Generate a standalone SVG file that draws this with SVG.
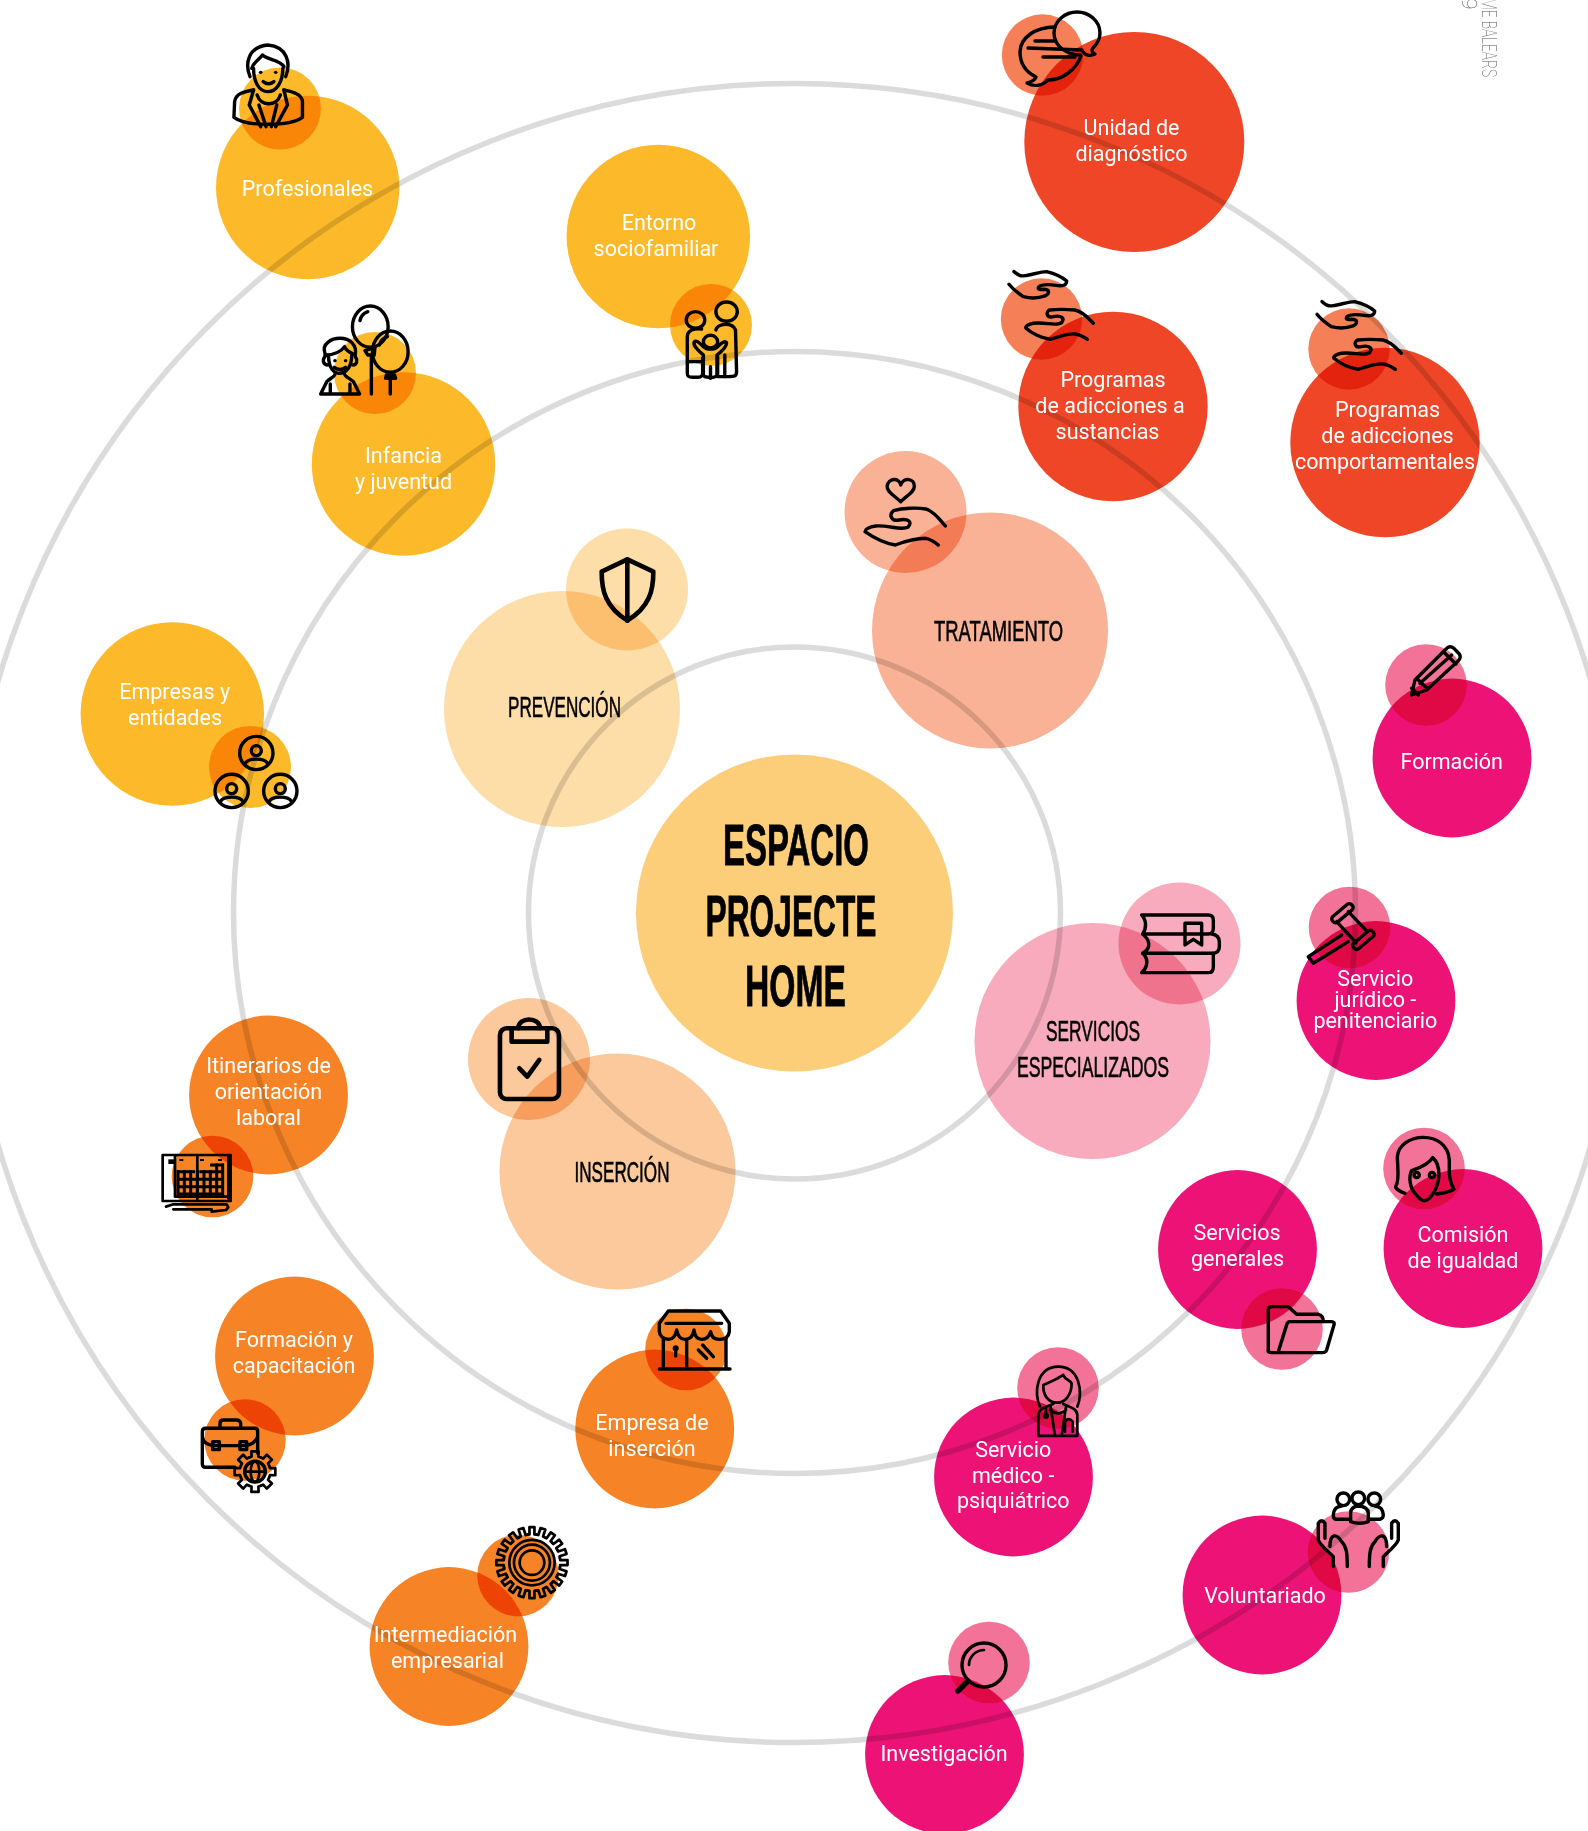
<svg xmlns="http://www.w3.org/2000/svg" xmlns:xlink="http://www.w3.org/1999/xlink" width="1588" height="1831" viewBox="0 0 1588 1831">
<style>
circle.c{mix-blend-mode:multiply}
.y{fill:#FCB92A}.r{fill:#EE4626}.rs{fill:#F58058}.p{fill:#EC1276}.ps{fill:#F27397}.o{fill:#F68325}
.core{fill:#FCCE79}.sp{fill:#FDDDA8}.st{fill:#F9B295}.se{fill:#F7ABBD}.si{fill:#FBC99B}
.ring{fill:none;stroke:#DBDBDB;stroke-width:5.5}
.l{font-family:Roboto,"Liberation Sans",sans-serif;font-size:21.5px;fill:#fff;text-anchor:middle}
.h{font-family:"Liberation Sans",Arial,sans-serif;font-size:29.5px;fill:#000;stroke:#000;stroke-width:.6}
.hb{font-family:"Liberation Sans",Arial,sans-serif;font-size:58px;font-weight:700;fill:#000;stroke:#000;stroke-width:.8}
.ed{font-family:Roboto,"Liberation Sans",sans-serif;font-weight:100;font-size:21px;fill:#555}
.i *{fill:none;stroke:#000;stroke-width:3.4;stroke-linecap:round;stroke-linejoin:round;vector-effect:non-scaling-stroke}
.i .t{stroke-width:2.7}
.i .f{fill:#000;stroke:none}
</style>
<defs>
<g id="hands" class="i">
<path d="M42 815C55 825 60 830 75 827C95 825 120 815 140 815C160 820 185 830 200 843C200 855 190 858 175 857C160 855 135 850 120 858C110 865 115 870 130 868C150 868 150 880 135 888C115 895 90 895 70 890C55 880 40 870 27 853"/>
<path d="M280 970C265 955 250 935 225 930C200 928 170 928 150 930C135 935 140 955 160 950C185 945 195 955 185 968C170 980 135 965 100 970C85 972 75 980 78 985C95 1000 125 1015 150 1018C175 1012 200 1000 225 1002C240 1003 250 1010 262 1018"/>
</g>
<g id="usr" class="i">
<circle r="50"/><circle cy="-7" r="15"/><path d="M-34 32C-25 14 25 14 34 32"/>
</g>
<g id="t20" class="i"><path class="t" d="M-13.3 -84L-7.4 -84.7L-7.5 -106.7L7.5 -106.7L7.4 -84.7L13.3 -84"/></g>
<g id="t8" class="i"><path class="t" d="M-17.6 -42.5L-10.3 -44.8L-10.8 -61L10.8 -61L10.3 -44.8L17.6 -42.5"/></g>
</defs>

<g id="connectors">
<circle class="ring" cx="794.5" cy="913" r="266"/>
<circle class="ring" cx="794.5" cy="912.5" r="561"/>
<circle class="ring" cx="794.5" cy="913" r="829.5"/>
</g>

<g id="edition">
<text class="ed" transform="translate(1482,-2) rotate(90)" textLength="79" lengthAdjust="spacingAndGlyphs">ME BALEARS</text>
<text class="ed" transform="translate(1462,-2) rotate(90)">9</text>
</g>

<g id="core">
<circle class="c core" cx="794.5" cy="913" r="158.5"/>
<text class="hb" x="723" y="865" textLength="146" lengthAdjust="spacingAndGlyphs">ESPACIO</text>
<text class="hb" x="705.5" y="935.5" textLength="171" lengthAdjust="spacingAndGlyphs">PROJECTE</text>
<text class="hb" x="745" y="1005.5" textLength="101" lengthAdjust="spacingAndGlyphs">HOME</text>
</g>

<g id="prevencion">
<circle class="c sp" cx="562" cy="709" r="118"/><circle class="c sp" cx="627" cy="589.5" r="61"/>
<text class="h" x="508" y="717" textLength="113" lengthAdjust="spacingAndGlyphs">PREVENCIÓN</text>
<g class="i" transform="translate(560,530) scale(.3333)"><path style="stroke-width:4.6" d="M202 88L125 125C125 180 135 230 202 272C270 230 280 180 280 125Z"/><path style="stroke-width:4.6" d="M202 88L202 272"/></g>
</g>

<g id="tratamiento">
<circle class="c st" cx="990" cy="630.5" r="118"/><circle class="c st" cx="905.5" cy="512" r="61"/>
<text class="h" x="934" y="641" textLength="129" lengthAdjust="spacingAndGlyphs">TRATAMIENTO</text>
<g class="i" transform="translate(840,260) scale(.357,.3333)">
<path d="M170 725C150 705 130 695 132 678C135 655 165 650 170 675C178 650 210 655 208 680C208 695 190 705 170 725Z"/>
<path d="M295 798C280 780 265 755 240 747C215 742 175 745 150 752C135 765 145 785 165 780C190 775 205 785 190 802C170 812 135 795 100 798C80 800 70 810 70 815C90 830 125 850 155 855C180 845 210 835 240 835C255 838 265 845 275 855"/>
</g>
</g>

<g id="servicios-especializados">
<circle class="c se" cx="1092.5" cy="1041" r="118"/><circle class="c se" cx="1179.5" cy="943.5" r="61"/>
<text class="h" x="1046" y="1040.5" textLength="94" lengthAdjust="spacingAndGlyphs">SERVICIOS</text>
<text class="h" x="1017" y="1077" textLength="152" lengthAdjust="spacingAndGlyphs">ESPECIALIZADOS</text>
<g class="i" transform="translate(1130,620) scale(.3333)">
<path d="M35 885L235 885Q250 885 250 900L250 925Q250 942 235 942L38 942M35 885C50 900 50 925 38 942"/>
<path d="M38 942C60 960 65 985 38 1000M245 942Q268 945 268 965L268 980Q268 1000 245 1000L38 1000"/>
<path d="M38 1000C55 1015 55 1040 35 1058L235 1058Q250 1058 250 1040L250 1000"/>
<path d="M165 910L165 975L190 958L215 975L215 910Z"/>
</g>
</g>

<g id="insercion">
<circle class="c si" cx="617.5" cy="1171.5" r="118"/><circle class="c si" cx="529" cy="1059" r="61"/>
<text class="h" x="574.5" y="1182" textLength="95" lengthAdjust="spacingAndGlyphs">INSERCIÓN</text>
<g class="i" transform="translate(140,680) scale(.3333)">
<rect style="stroke-width:4.6" x="1080" y="1045" width="177" height="212" rx="20"/>
<path style="stroke-width:4.6" d="M1115 1048L1115 1085L1222 1085L1222 1048M1135 1045C1135 1010 1200 1010 1200 1045"/>
<path style="stroke-width:4.6" d="M1138 1165L1162 1190L1198 1140"/>
</g>
</g>

<g id="profesionales">
<circle class="c y" cx="307.7" cy="187.5" r="91.7"/><circle class="c y" cx="280" cy="108.5" r="41"/>
<text class="l" x="307.5" y="195.5">Profesionales</text>
<g class="i" transform="translate(200,30) scale(.357,.3333)">
<path d="M140 140C125 100 135 50 190 45C245 50 255 100 240 140"/>
<path d="M145 115C150 95 165 90 175 75C190 90 225 90 235 110"/>
<path d="M150 115C150 155 165 185 190 185C215 185 232 155 232 115"/>
<circle class="f" cx="170" cy="127" r="5"/><circle class="f" cx="212" cy="127" r="5"/>
<path d="M177 155Q192 168 207 155"/>
<path d="M150 180C125 185 100 190 97 215L95 262C130 290 250 290 287 262L287 215C285 190 255 185 235 180"/>
<path d="M150 180L138 225L170 290M235 180L245 225L212 290M160 195C170 230 215 230 225 195M165 225L185 290M215 225L200 290"/>
</g>
</g>

<g id="entorno-sociofamiliar">
<circle class="c y" cx="658.3" cy="236.5" r="91.7"/><circle class="c y" cx="711" cy="325" r="41"/>
<text class="l" x="659" y="230">Entorno</text><text class="l" x="656" y="256.2">sociofamiliar</text>
<g class="i" transform="translate(200,30) scale(.357,.3333)">
<ellipse cx="1475" cy="845" rx="30" ry="29"/><ellipse cx="1388" cy="870" rx="26" ry="25"/><ellipse cx="1430" cy="935" rx="20" ry="19"/>
<path d="M1365 990L1365 920C1365 900 1385 895 1405 897M1365 990L1365 1030C1365 1040 1370 1042 1380 1042L1395 1042C1405 1042 1408 1035 1408 1030L1408 985"/>
<path d="M1445 900C1450 880 1490 875 1500 900L1503 1025C1503 1040 1495 1040 1480 1040L1450 1040L1450 980"/>
<path d="M1385 935C1380 945 1390 955 1400 965L1410 975L1410 1035C1412 1045 1445 1045 1448 1035L1448 975C1460 965 1475 950 1475 938C1470 930 1460 940 1450 950C1440 960 1420 960 1410 950C1400 940 1390 930 1385 935Z"/>
<path d="M1365 995L1408 995M1430 1010L1430 1045M1470 975L1470 1040"/>
</g>
</g>

<g id="infancia">
<circle class="c y" cx="403.5" cy="464" r="91.7"/><circle class="c y" cx="375" cy="373" r="41"/>
<text class="l" x="403.5" y="463">Infancia</text><text class="l" x="403.5" y="488.5">y juventud</text>
<g class="i" transform="translate(200,30) scale(.357,.3333)">
<ellipse cx="477" cy="890" rx="50" ry="62"/><path d="M462 962L490 952L488 975L470 975ZM480 975L480 1092"/>
<ellipse cx="533" cy="965" rx="50" ry="62"/><path d="M522 1035L545 1035L548 1045L520 1045ZM533 1045L533 1092"/>
<path d="M448 872C450 860 458 850 470 845M502 945C505 935 512 925 525 920"/>
<path d="M350 970C340 940 370 925 392 925C420 925 440 945 435 975"/>
<path d="M360 975C360 1015 375 1030 390 1030C410 1030 425 1010 425 975M350 975C380 975 395 965 405 950C410 965 425 970 435 975"/>
<path d="M350 980C342 990 345 1005 358 1005M435 980C442 990 440 1005 428 1005"/>
<circle class="f" cx="378" cy="992" r="5"/><circle class="f" cx="408" cy="992" r="5"/>
<path d="M376 1012Q392 1025 408 1012"/>
<path d="M338 1092L447 1092L430 1055C420 1045 405 1040 405 1032M338 1092L355 1055C365 1045 378 1040 378 1032M365 1062L365 1092M420 1062L420 1092"/>
</g>
</g>

<g id="empresas-entidades">
<circle class="c y" cx="172.3" cy="714" r="91.7"/><circle class="c y" cx="250" cy="767" r="41"/>
<text class="l" x="174.7" y="698.7">Empresas y</text><text class="l" x="175" y="724.5">entidades</text>
<g transform="translate(140,680) scale(.3333)">
<use xlink:href="#usr" href="#usr" x="349" y="219"/><use xlink:href="#usr" href="#usr" x="275" y="333"/><use xlink:href="#usr" href="#usr" x="421" y="333"/>
</g>
</g>

<g id="unidad-diagnostico">
<circle class="c r" cx="1134.3" cy="142" r="110"/><circle class="c rs" cx="1042.5" cy="55" r="40.7"/>
<text class="l" x="1131.5" y="135">Unidad de</text><text class="l" x="1131.5" y="161">diagnóstico</text>
<g class="i">
<path d="M1055 27C1035 27 1020 38 1020 52C1020 63 1026 72 1036 77C1035 80 1031 82 1027 83C1034 87 1042 86 1048 80C1062 80 1076 70 1081 56"/>
<path d="M1080 55C1068 55 1054 47 1054 33C1054 21 1065 12 1077 12C1089 12 1100 21 1100 33C1100 39 1097 44 1093 48C1091 50 1092 53 1095 54C1091 56 1086 56 1083 52"/>
<path d="M1035 41L1055 41M1028 48L1082 50M1043 57L1075 57"/>
</g>
</g>

<g id="adicciones-sustancias">
<circle class="c r" cx="1113" cy="406.5" r="94.7"/><circle class="c rs" cx="1041.5" cy="319" r="40.7"/>
<text class="l" x="1113" y="387">Programas</text><text class="l" x="1110" y="412.6">de adicciones a</text><text class="l" x="1107.5" y="438.5">sustancias</text>
<g transform="translate(1000,0) scale(.3333)"><use xlink:href="#hands" href="#hands"/></g>
</g>

<g id="adicciones-comportamentales">
<circle class="c r" cx="1385" cy="442.5" r="94.7"/><circle class="c rs" cx="1349" cy="349" r="40.7"/>
<text class="l" x="1387.5" y="417.3">Programas</text><text class="l" x="1387.5" y="443">de adicciones</text><text class="l" x="1385" y="469" textLength="180" lengthAdjust="spacing">comportamentales</text>
<g transform="translate(1308,30) scale(.3333)"><use xlink:href="#hands" href="#hands"/></g>
</g>

<g id="formacion">
<circle class="c p" cx="1452" cy="758" r="79.4"/><circle class="c ps" cx="1426" cy="685" r="40.8"/>
<text class="l" x="1451.7" y="769">Formación</text>
<g class="i" transform="translate(1130,620) scale(.3333)">
<path d="M845 225L855 180L950 85Q960 75 972 85L988 102Q995 112 985 122L890 210Z"/>
<path d="M940 95L978 132M870 190L965 105M845 205L865 225M860 175L893 207"/>
</g>
</g>

<g id="servicio-juridico">
<circle class="c p" cx="1376" cy="1000.5" r="79.4"/><circle class="c ps" cx="1349.5" cy="927.5" r="40.8"/>
<text class="l" x="1375.3" y="985.7">Servicio</text><text class="l" x="1375.3" y="1006.7">jurídico -</text><text class="l" x="1375.3" y="1027.7">penitenciario</text>
<g class="i" transform="translate(1130,620) scale(.3333)">
<rect x="600" y="869" width="75" height="22" rx="9" transform="rotate(-40 637 880)"/>
<rect x="663" y="949" width="75" height="22" rx="9" transform="rotate(-40 700 960)"/>
<path d="M655 875L712 935M620 905L678 968M635 945L535 1010L550 1030L655 965"/>
</g>
</g>

<g id="comision-igualdad">
<circle class="c p" cx="1463" cy="1248.5" r="79.4"/><circle class="c ps" cx="1424" cy="1168.5" r="40.8"/>
<text class="l" x="1463" y="1241.7">Comisión</text><text class="l" x="1463" y="1267.5">de igualdad</text>
<g class="i" transform="translate(1360,1110) scale(.3333)">
<path d="M135 250C120 245 105 235 107 230C120 210 112 170 112 140C115 105 150 82 190 82C230 82 265 105 268 150C268 185 265 210 282 238C270 245 250 250 230 252"/>
<path d="M218 143C205 165 175 175 155 182C145 200 150 235 165 250C175 262 185 275 195 272C215 268 235 230 237 195C237 175 232 155 218 143Z"/>
<circle cx="170" cy="195" r="8"/><circle cx="216" cy="195" r="8"/>
</g>
</g>

<g id="servicios-generales">
<circle class="c p" cx="1237.5" cy="1249.5" r="79.4"/><circle class="c ps" cx="1282" cy="1329" r="40.8"/>
<text class="l" x="1237" y="1240">Servicios</text><text class="l" x="1237.5" y="1266">generales</text>
<g class="i" transform="translate(940,1120) scale(.3333)">
<path d="M985 695L985 570Q985 560 995 560L1045 560L1070 583L1135 583Q1150 585 1150 605"/>
<path d="M1015 695L1040 615Q1042 605 1050 605L1175 605Q1185 605 1182 615L1160 690Q1157 698 1148 698L995 698Q985 698 985 690"/>
</g>
</g>

<g id="servicio-medico">
<circle class="c p" cx="1013.5" cy="1477" r="79.4"/><circle class="c ps" cx="1058" cy="1388" r="40.8"/>
<text class="l" x="1013.2" y="1456.7">Servicio</text><text class="l" x="1013.2" y="1482.7">médico -</text><text class="l" x="1013.2" y="1508">psiquiátrico</text>
<g class="i" transform="translate(940,1120) scale(.3333)">
<path class="t" d="M300 860C280 820 290 740 355 740C420 740 430 820 412 860"/>
<path class="t" d="M310 795C335 785 355 775 370 765C375 780 390 780 395 790C395 825 375 848 352 848C325 848 308 825 310 795Z"/>
<path class="t" d="M295 948L295 885C295 865 320 860 340 852M412 948L412 885C412 865 385 860 370 852M295 948L412 948M332 860L345 948M378 860L365 948M330 870Q355 890 378 870"/>
<path class="t" d="M318 865L318 882M375 905L375 935M398 935L398 905Q386 890 375 905"/><circle class="t" cx="318" cy="888" r="5"/>
</g>
</g>

<g id="voluntariado">
<circle class="c p" cx="1262" cy="1595" r="79.4"/><circle class="c ps" cx="1348.5" cy="1552" r="40.8"/>
<text class="l" x="1265" y="1602.5">Voluntariado</text>
<g class="i" transform="translate(940,1120) scale(.3333)">
<circle cx="1210" cy="1138" r="19"/><circle cx="1255" cy="1135" r="19"/><circle cx="1303" cy="1138" r="19"/>
<path d="M1232 1205L1232 1180Q1232 1160 1255 1158Q1285 1160 1285 1180L1285 1205Q1260 1215 1232 1205"/>
<path d="M1230 1198L1190 1198Q1180 1198 1180 1185C1182 1165 1190 1160 1205 1158M1285 1198L1320 1198Q1330 1195 1330 1185C1328 1165 1320 1160 1305 1158"/>
<path d="M1180 1340L1180 1310C1165 1295 1140 1275 1135 1260L1135 1210Q1145 1195 1155 1210L1155 1255M1170 1280C1170 1240 1190 1240 1205 1265C1220 1280 1222 1300 1222 1340"/>
<path d="M1330 1340L1330 1310C1345 1295 1370 1275 1375 1260L1375 1210Q1365 1195 1355 1210L1355 1255M1340 1280C1340 1240 1320 1240 1305 1265C1290 1280 1288 1300 1288 1340"/>
</g>
</g>

<g id="investigacion">
<circle class="c p" cx="944.5" cy="1754.5" r="79.4"/><circle class="c ps" cx="989" cy="1662.5" r="40.8"/>
<text class="l" x="944" y="1760.5">Investigación</text>
<g class="i">
<circle cx="984" cy="1665" r="22"/><path class="t" d="M969 1665A15 15 0 0 1 984 1650"/>
<path style="stroke-width:5.5" d="M968 1681L958 1691"/>
</g>
</g>

<g id="itinerarios">
<circle class="c o" cx="268.5" cy="1095" r="79.4"/><circle class="c o" cx="212.5" cy="1176.5" r="40.8"/>
<text class="l" x="268.5" y="1073">Itinerarios de</text><text class="l" x="268.5" y="1098.7">orientación</text><text class="l" x="268.5" y="1125">laboral</text>
<g class="i" transform="translate(140,1120) scale(.3333)">
<path class="t" d="M68 105L272 105L272 243L68 243ZM172 105L172 243M105 230L105 110Q105 105 115 105M265 110L265 235M105 230L265 230"/>
<path style="stroke-width:3;stroke-linecap:butt" d="M112 155L165 155M112 178L248 178M112 200L248 200M112 222L248 222M178 155L248 155M114 150L114 232M133 150L133 232M152 150L152 232M172 150L172 232M192 150L192 232M211 150L211 232M230 130L230 232M248 130L248 232M210 135L248 135"/>
<path style="stroke-width:2;stroke-dasharray:4 14;stroke-linecap:butt" d="M118 120L165 120M180 120L248 120"/>
<rect class="f" x="85" y="118" width="20" height="14"/>
<path class="t" d="M78 260L100 253L260 253L265 262L258 270L215 275M100 268L215 268"/>
</g>
</g>

<g id="formacion-capacitacion">
<circle class="c o" cx="294.5" cy="1356" r="79.4"/><circle class="c o" cx="245" cy="1440" r="40.8"/>
<text class="l" x="294" y="1346.8">Formación y</text><text class="l" x="294" y="1372.5">capacitación</text>
<g class="i" transform="translate(140,1120) scale(.3333)">
<path d="M353 1000L353 935Q353 925 345 925L197 925Q187 925 187 935L187 1032Q187 1042 197 1042L285 1042M240 925L240 910Q240 900 250 900L290 900Q300 900 302 910L302 925M187 950Q190 975 225 977L310 977Q345 975 353 950"/>
<rect x="218" y="965" width="20" height="24"/><rect x="300" y="965" width="20" height="24"/>
<g transform="translate(345,1055)">
<use xlink:href="#t8" href="#t8"/><use xlink:href="#t8" href="#t8" transform="rotate(45)"/><use xlink:href="#t8" href="#t8" transform="rotate(90)"/><use xlink:href="#t8" href="#t8" transform="rotate(135)"/><use xlink:href="#t8" href="#t8" transform="rotate(180)"/><use xlink:href="#t8" href="#t8" transform="rotate(225)"/><use xlink:href="#t8" href="#t8" transform="rotate(270)"/><use xlink:href="#t8" href="#t8" transform="rotate(315)"/>
<circle r="31"/><ellipse class="t" rx="13" ry="31"/><path class="t" d="M-31 0L31 0"/>
</g>
</g>
</g>

<g id="intermediacion">
<circle class="c o" cx="449" cy="1646.5" r="79.4"/><circle class="c o" cx="518" cy="1575.5" r="40.8"/>
<text class="l" x="445.5" y="1642">Intermediación</text><text class="l" x="447.5" y="1667.8">empresarial</text>
<g class="i" transform="translate(140,1120) scale(.3333)"><g transform="translate(1176,1328)">
<use xlink:href="#t20" href="#t20"/><use xlink:href="#t20" href="#t20" transform="rotate(18)"/><use xlink:href="#t20" href="#t20" transform="rotate(36)"/><use xlink:href="#t20" href="#t20" transform="rotate(54)"/><use xlink:href="#t20" href="#t20" transform="rotate(72)"/><use xlink:href="#t20" href="#t20" transform="rotate(90)"/><use xlink:href="#t20" href="#t20" transform="rotate(108)"/><use xlink:href="#t20" href="#t20" transform="rotate(126)"/><use xlink:href="#t20" href="#t20" transform="rotate(144)"/><use xlink:href="#t20" href="#t20" transform="rotate(162)"/><use xlink:href="#t20" href="#t20" transform="rotate(180)"/><use xlink:href="#t20" href="#t20" transform="rotate(198)"/><use xlink:href="#t20" href="#t20" transform="rotate(216)"/><use xlink:href="#t20" href="#t20" transform="rotate(234)"/><use xlink:href="#t20" href="#t20" transform="rotate(252)"/><use xlink:href="#t20" href="#t20" transform="rotate(270)"/><use xlink:href="#t20" href="#t20" transform="rotate(288)"/><use xlink:href="#t20" href="#t20" transform="rotate(306)"/><use xlink:href="#t20" href="#t20" transform="rotate(324)"/><use xlink:href="#t20" href="#t20" transform="rotate(342)"/>
<circle class="t" r="68"/><circle class="t" r="54"/><circle class="t" r="37"/>
</g></g>
</g>

<g id="empresa-insercion">
<circle class="c o" cx="654.7" cy="1429" r="79.4"/><circle class="c o" cx="686" cy="1349.5" r="40.8"/>
<text class="l" x="652" y="1430">Empresa de</text><text class="l" x="652" y="1455.7">inserción</text>
<g class="i" transform="translate(600,1280) scale(.3333)">
<path d="M205 93L362 93L388 130L388 155Q385 178 358 178Q335 178 332 155Q325 178 305 178Q285 178 282 150Q278 178 255 178Q235 178 230 150Q225 178 205 178Q180 175 178 155L178 130Z"/>
<path d="M198 130L365 130M190 175L190 265M378 175L378 265M260 178L260 265M178 267L390 267M227 205L227 228M295 210L320 235M308 195L340 230"/>
<circle class="f" cx="227" cy="205" r="9"/>
</g>
</g>
</svg>
